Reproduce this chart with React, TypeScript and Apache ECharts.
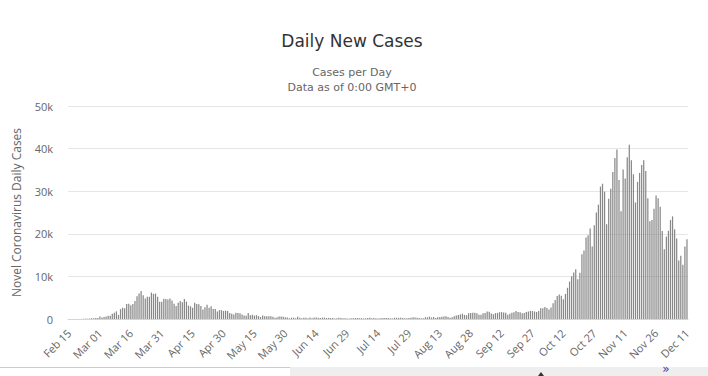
import React, { useEffect, useRef } from "react";
import * as echarts from "echarts";

const START_YEAR = 2020;
const START_MONTH = 1; // February (0-based)
const START_DAY = 15;
const MONTHS = ["Jan", "Feb", "Mar", "Apr", "May", "Jun", "Jul", "Aug", "Sep", "Oct", "Nov", "Dec"];

const febValues = [0, 0, 0, 0, 0, 0, 17, 59, 78, 72, 94, 147, 185, 234, 239];
const marValues = [566, 342, 466, 587, 769, 778, 1247, 1492, 1797, 977, 2313, 2651, 2547, 3497, 3590, 3233, 3526, 4207, 5322, 5986, 6557, 5560, 4789, 5249, 5210, 6203, 5909, 5974, 5217, 4050, 4053];
const aprValues = [4782, 4668, 4585, 4805, 4316, 3599, 3039, 3836, 4204, 3951, 4694, 4092, 3153, 2972, 2667, 3786, 3493, 3491, 3047, 2256, 2729, 3370, 2646, 3021, 2357, 2324, 1739, 2091, 2086, 1872];
const mayValues = [1965, 1900, 1389, 1221, 1075, 1444, 1401, 1327, 1083, 802, 744, 1402, 888, 992, 789, 875, 675, 451, 813, 665, 642, 652, 669, 531, 300, 397, 584, 593, 516, 416, 355];
const junValues = [178, 318, 321, 177, 518, 270, 197, 280, 283, 202, 379, 163, 346, 338, 301, 210, 329, 333, 251, 262, 224, 218, 122, 190, 296, 259, 175, 174, 126, 142];
const julValues = [182, 201, 223, 235, 192, 208, 138, 193, 229, 276, 188, 234, 169, 114, 162, 230, 233, 249, 219, 190, 129, 282, 306, 252, 275, 255, 170, 181, 212, 289, 386];
const augValues = [379, 295, 239, 159, 190, 384, 402, 552, 347, 463, 259, 412, 481, 523, 574, 629, 479, 320, 403, 642, 845, 947, 1071, 1210, 953, 878, 1367, 1411, 1460, 1444, 1365];
const sepValues = [996, 978, 1326, 1397, 1733, 1695, 1297, 1108, 1370, 1434, 1597, 1616, 1501, 1458, 1008, 1229, 1452, 1585, 1907, 1638, 1587, 1350, 1392, 1640, 1786, 1912, 1869, 1766, 1648, 1851];
const octValues = [2548, 2499, 2844, 2578, 2257, 2677, 3678, 4458, 5372, 5724, 5456, 4619, 5901, 7332, 8804, 10010, 10925, 11705, 9338, 10874, 15199, 16079, 19143, 19644, 21273, 17012, 21994, 24991, 26831, 31084, 31758];
const novValues = [29907, 22253, 28244, 30550, 34505, 37809, 39811, 32616, 25271, 35098, 32961, 37978, 40902, 37255, 33979, 27354, 32191, 34283, 36176, 37242, 34767, 28337, 22930, 23232, 25853, 29003, 28352, 26323, 20648, 16377];
const decValues = [19350, 20709, 23225, 24099, 21052, 18887, 13720, 14842, 12756, 16999, 18727];

const dailyCases = [
  ...febValues, ...marValues, ...aprValues, ...mayValues, ...junValues, ...julValues,
  ...augValues, ...sepValues, ...octValues, ...novValues, ...decValues,
];

const categories: string[] = dailyCases.map((_, i) => {
  const d = new Date(Date.UTC(START_YEAR, START_MONTH, START_DAY + i));
  const dd = String(d.getUTCDate()).padStart(2, "0");
  return `${MONTHS[d.getUTCMonth()]} ${dd}`;
});

const yTicks = [0, 10000, 20000, 30000, 40000, 50000];

export default function App() {
  const ref = useRef<HTMLDivElement>(null);
  useEffect(() => {
    if (!ref.current) return;
    const chart = echarts.init(ref.current, null, { renderer: "svg" });
    chart.setOption({
      animation: false,
      backgroundColor: "#ffffff",
      textStyle: { fontFamily: "DejaVu Sans" },
      title: [
        {
          text: "Daily New Cases",
          left: 347,
          top: 27,
          textAlign: "center",
          textStyle: { fontSize: 17, fontWeight: "normal", color: "#333333", fontFamily: "DejaVu Sans" },
        },
        {
          text: "Cases per Day\nData as of 0:00 GMT+0",
          left: 347,
          top: 60,
          textAlign: "center",
          textStyle: { fontSize: 11, fontWeight: "normal", color: "#666666", lineHeight: 15, fontFamily: "DejaVu Sans" },
        },
      ],
      grid: { left: 68, right: 20, top: 106, bottom: 57, containLabel: false },
      xAxis: {
        type: "category",
        data: categories,
        boundaryGap: true,
        axisLine: { lineStyle: { color: "#ccd6eb" } },
        axisTick: { show: false },
        axisLabel: {
          interval: 14,
          rotate: 45,
          color: "#666666",
          fontSize: 11,
          fontFamily: "Open Sans",
          margin: 12,
        },
      },
      yAxis: {
        type: "value",
        min: 0,
        max: yTicks[yTicks.length - 1],
        interval: 10000,
        name: "Novel Coronavirus Daily Cases",
        nameLocation: "middle",
        nameGap: 46,
        nameTextStyle: { color: "#666666", fontSize: 12, fontFamily: "Open Sans" },
        axisLine: { show: false },
        axisTick: { show: false },
        splitLine: { lineStyle: { color: "#e6e6e6" } },
        axisLabel: {
          color: "#666666",
          fontSize: 11,
          fontFamily: "Open Sans",
          margin: 15,
          formatter: (v: number) => (v === 0 ? "0" : `${v / 1000}k`),
        },
      },
      series: [
        {
          type: "bar",
          data: dailyCases,
          itemStyle: { color: "#888888" },
          barCategoryGap: "40%",
        },
      ],
      graphic: [
        { type: "line", shape: { x1: 0, y1: 367.5, x2: 290, y2: 367.5 }, style: { stroke: "#cccccc", lineWidth: 1 } },
        { type: "rect", shape: { x: 290, y: 367, width: 418, height: 9 }, style: { fill: "#eeeeee" } },
        { type: "polygon", shape: { points: [[538, 376], [541, 372], [544, 376]] }, style: { fill: "#333333" } },
        { type: "text", x: 666, y: 363, style: { text: "»", fontSize: 12, fill: "#3344aa", align: "center", fontFamily: "DejaVu Sans" } },
      ],
    });
    return () => chart.dispose();
  }, []);
  return <div ref={ref} style={{ position: "absolute", left: 0, top: 0, width: 708, height: 376 }} />;
}
